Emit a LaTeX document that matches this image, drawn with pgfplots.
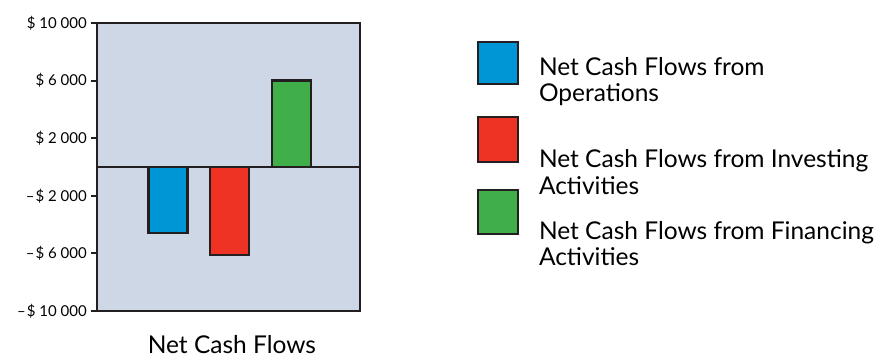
\documentclass[border=0pt]{standalone}
\usepackage{pgfplots}
\pgfplotsset{compat=1.18}
\usepackage{fontspec}
\setmainfont{Lato}

\definecolor{panel}{RGB}{206,215,229}
\definecolor{opsblue}{RGB}{0,150,214}
\definecolor{invred}{RGB}{238,50,36}
\definecolor{fingreen}{RGB}{64,174,73}
\definecolor{ink}{RGB}{35,31,32}

% two-line legend text in a block of fixed height
\newcommand{\entry}[3]{\vbox to #1{\hbox{#2}\hbox{#3}\vss}}

\begin{document}
\begin{tikzpicture}
\begin{axis}[
  width=263pt, height=288pt, scale only axis,
  xmin=-1.15, xmax=3.11, ymin=-10000, ymax=10000,
  scaled y ticks=false,
  xtick=\empty,
  ytick={-10000,-6000,-2000,2000,6000,10000},
  yticklabels={{–\kern1pt\$ 10 000},{–\kern1pt\$ 6 000},{–\kern1pt\$ 2 000},{\$ 2 000},{\$ 6 000},{\$ 10 000}},
  ytick pos=left,
  tick align=outside, major tick length=6pt,
  tick style={ink, line width=2pt},
  yticklabel style={font=\fontsize{15}{18}\selectfont, inner sep=0pt, xshift=-4pt},
  axis line style={ink, line width=2.4pt},
  axis background/.style={fill=panel},
  extra y ticks={0}, extra y tick labels={},
  extra y tick style={grid=major, major grid style={ink, line width=1.8pt}, major tick length=0pt},
  ybar, bar width=0.63,
  clip=false,
  xlabel={Net Cash Flows},
  xlabel style={at={(axis description cs:0.513,-0.085)}, anchor=north, inner sep=0pt,
    font=\fontsize{24.5}{28}\selectfont},
  legend cell align=left,
  legend style={at={(axis description cs:1.4487,0.8816)}, anchor=north west,
    draw=none, fill=none, inner sep=0pt, outer sep=0pt,
    row sep=0pt, column sep=21pt, nodes={inner sep=0pt, outer sep=0pt},
    font=\fontsize{24.5}{26.5}\selectfont},
]
% outer extent of the figure
\path (axis description cs:-0.3688,1.0799) rectangle (axis description cs:2.981,-0.1632);

\addplot[fill=opsblue, draw=ink, line width=2.4pt, bar shift=0pt,
  legend image code/.code={\path[draw=none, fill=none] (0pt,0pt) rectangle (40pt,0pt);
    \draw[overlay, fill=opsblue, draw=ink, line width=2.4pt] (0pt,19.6pt) rectangle (40pt,61.6pt);}]
  coordinates {(0,-4600)};
\addlegendentry{\entry{91pt}{Net Cash Flows from}{Operations}}

\addplot[fill=invred, draw=ink, line width=2.4pt, bar shift=0pt,
  legend image code/.code={\path[draw=none, fill=none] (0pt,0pt) rectangle (40pt,0pt);
    \draw[overlay, fill=invred, draw=ink, line width=2.4pt] (0pt,23.6pt) rectangle (40pt,68.3pt);}]
  coordinates {(1,-6100)};
\addlegendentry{\entry{70pt}{Net Cash Flows from Investing}{Activities}}

\addplot[fill=fingreen, draw=ink, line width=2.4pt, bar shift=0pt,
  legend image code/.code={\path[draw=none, fill=none] (0pt,0pt) rectangle (40pt,0pt);
    \draw[overlay, fill=fingreen, draw=ink, line width=2.4pt] (0pt,24.6pt) rectangle (40pt,68.3pt);}]
  coordinates {(2,6000)};
\addlegendentry{\entry{73pt}{Net Cash Flows from Financing}{Activities}}
\end{axis}
\end{tikzpicture}
\end{document}
